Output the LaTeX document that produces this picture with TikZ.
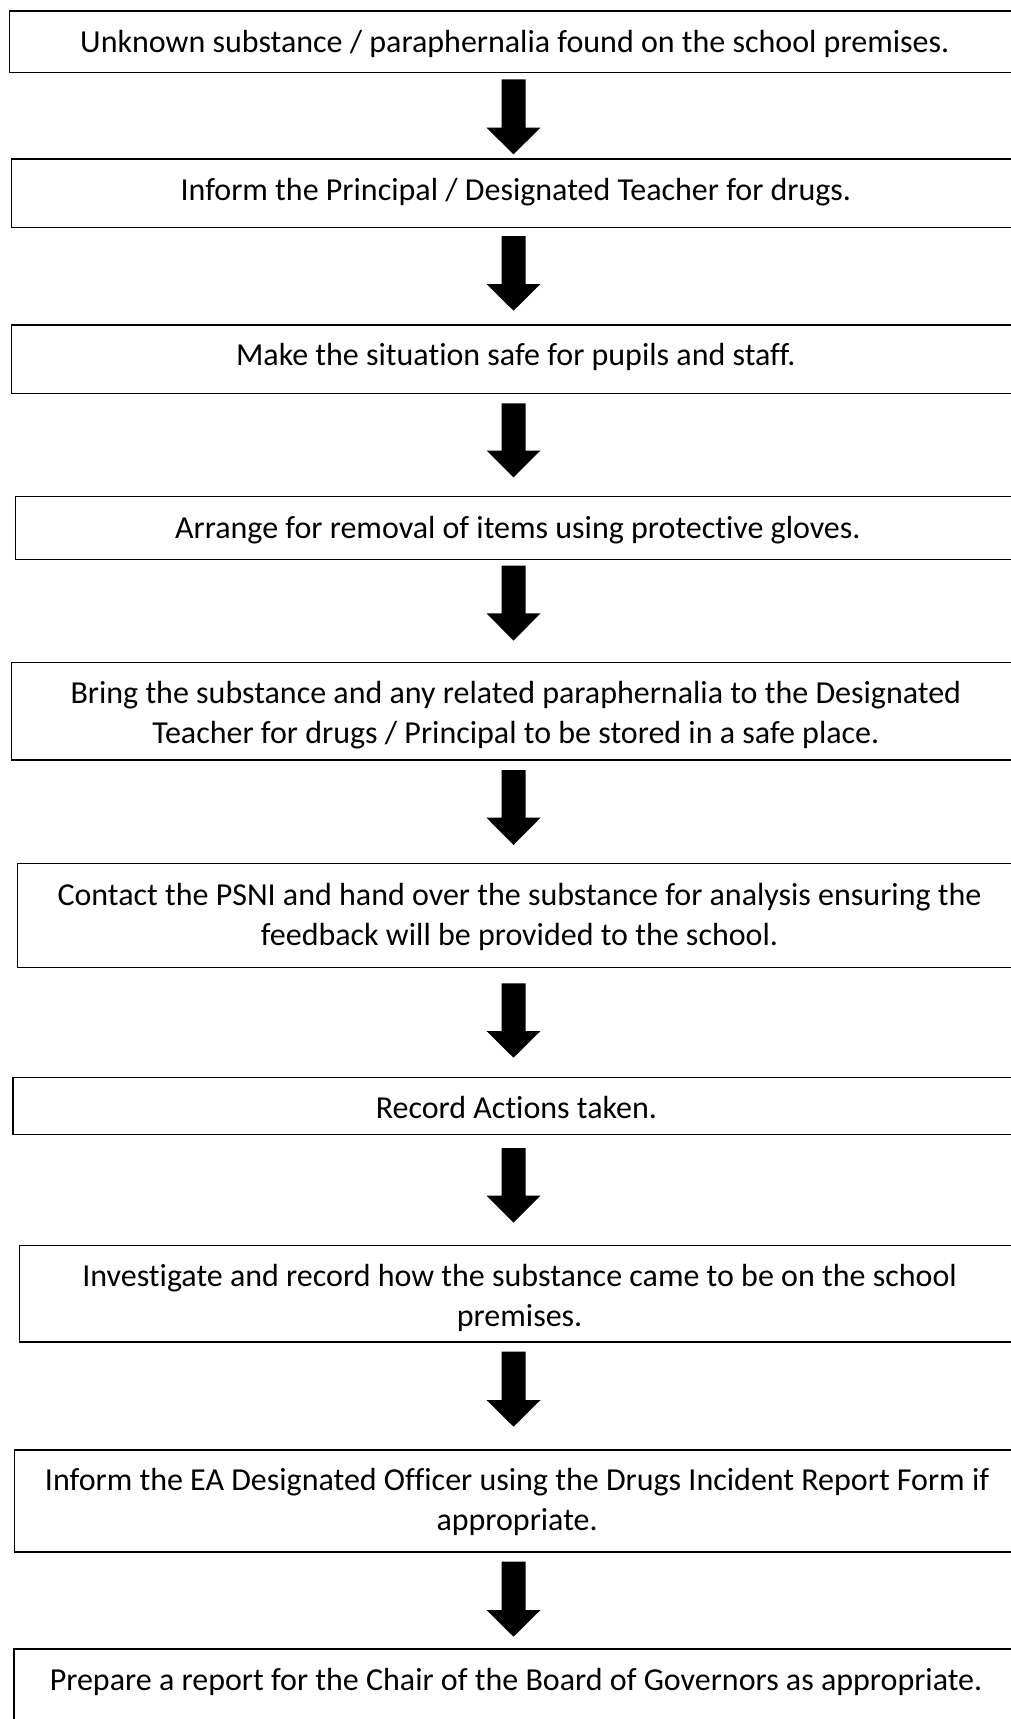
\documentclass[tikz,border=0pt]{standalone}
\usepackage{fontspec}
\setmainfont{Carlito}[Ligatures={NoCommon,NoRare,NoContextual}]
\newcommand\blkarrow[3]{%
  \fill[black] (501.5,#1) -- (525.5,#1) -- (525.5,#2) -- (540.5,#2) -- (513.5,#3) -- (486.5,#2) -- (501.5,#2) -- cycle;}
\begin{document}
\begin{tikzpicture}[x=1pt,y=-1pt,
  box/.style={draw=black, line width=1.4pt, fill=none, inner sep=0pt, outer sep=0pt, anchor=north west},
  txt/.style={inner sep=0pt, anchor=base, font=\fontsize{32}{40}\selectfont, text=black}]
\useasboundingbox (0,0) rectangle (1011,1719);
\clip (0,0) rectangle (1011,1719);
\fill[white] (0,0) rectangle (1011,1719);
\newcommand\tb[1]{\parbox[t]{1000pt}{\centering #1}}
% boxes
\node[box, minimum width=1010.5pt, minimum height=61.7pt] (b1) at (9.5,11) {};
\node[box, minimum width=1008.3pt, minimum height=68.3pt] (b2) at (11.7,159) {};
\node[box, minimum width=1008.4pt, minimum height=68.3pt] (b3) at (11.6,325) {};
\node[box, minimum width=1004.5pt, minimum height=62.6pt] (b4) at (15.5,496.7) {};
\node[box, minimum width=1008.4pt, minimum height=97.7pt] (b5) at (11.6,662.3) {};
\node[box, minimum width=1002.3pt, minimum height=104.4pt] (b6) at (17.7,863.3) {};
\node[box, minimum width=1007.1pt, minimum height=57.4pt] (b7) at (12.9,1077.3) {};
\node[box, minimum width=1000.7pt, minimum height=96.7pt] (b8) at (19.3,1245.3) {};
\node[box, minimum width=1005.8pt, minimum height=102pt] (b9) at (14.2,1450) {};
\node[box, minimum width=1006pt, minimum height=100pt] (b10) at (14,1649) {};
% texts
\node[txt] (t1) at (514.8,52) {\tb{Unknown substance / paraphernalia found on the school premises.}};
\node[txt] (t2) at (515.9,200) {\tb{Inform the Principal / Designated Teacher for drugs.}};
\node[txt] (t3) at (515.8,365.5) {\tb{Make the situation safe for pupils and staff.}};
\node[txt] (t4) at (517.8,538) {\tb{Arrange for removal of items using protective gloves.}};
\node[txt] (t5) at (515.8,703) {\tb{Bring the substance and any related paraphernalia to the Designated\\Teacher for drugs / Principal to be stored in a safe place.}};
\node[txt] (t6) at (519.5,905) {\tb{Contact the PSNI and hand over the substance for analysis ensuring the\\feedback will be provided to the school.}};
\node[txt] (t7) at (516.4,1118) {\tb{Record Actions taken.}};
\node[txt] (t8) at (519.6,1286) {\tb{Investigate and record how the substance came to be on the school\\premises.}};
\node[txt] (t9) at (517.1,1490.5) {\tb{Inform the EA Designated Officer using the Drugs Incident Report Form if\\appropriate.}};
\node[txt] (t10) at (516,1690.5) {\tb{Prepare a report for the Chair of the Board of Governors as appropriate.}};
% block arrows
\blkarrow{79.3}{127.7}{154.3}
\blkarrow{236}{284}{310.7}
\blkarrow{403.3}{450.5}{477.3}
\blkarrow{565.7}{613.3}{640.7}
\blkarrow{770}{817.7}{845}
\blkarrow{983.3}{1031}{1057.7}
\blkarrow{1148}{1195.7}{1222.7}
\blkarrow{1351.7}{1400}{1426.7}
\blkarrow{1561.7}{1610}{1636.7}
\end{tikzpicture}
\end{document}
